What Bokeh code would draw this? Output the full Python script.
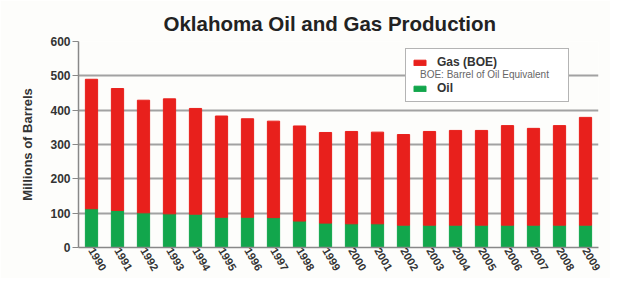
import math
from bokeh.plotting import figure
from bokeh.models import ColumnDataSource, Legend, LegendItem, FixedTicker
from bokeh.embed import file_html
from bokeh.resources import INLINE

years = ["1990", "1991", "1992", "1993", "1994", "1995", "1996", "1997", "1998", "1999",
         "2000", "2001", "2002", "2003", "2004", "2005", "2006", "2007", "2008", "2009"]
oil = [113, 108, 101, 98, 97, 88, 88, 87, 77, 71, 69, 69, 65, 65, 65, 65, 65, 65, 65, 65]
gas = [377, 355, 328, 335, 308, 295, 287, 281, 277, 264, 269, 267, 264, 273, 276, 276, 290, 282, 290, 314]
y_ticks = [0, 100, 200, 300, 400, 500, 600]

GREEN = "#12a64c"
RED = "#e8201c"
FONT = "Liberation Sans"

src = ColumnDataSource(dict(year=years, oil=oil, gas=gas))

p = figure(x_range=years, y_range=(0, 600), width=610, height=278,
           output_backend="svg", toolbar_location=None,
           min_border_left=78, min_border_right=12, min_border_top=41, min_border_bottom=31,
           background_fill_color="#fdfdfb", border_fill_color="#fdfdfb")

p.title.text = "Oklahoma Oil and Gas Production"
p.title.align = "left"
p.title.offset = 85
p.title.text_font = FONT
p.title.text_font_size = "20.5px"
p.title.text_font_style = "bold"
p.title.text_color = "#222222"
p.title.standoff = 13

rs = p.vbar_stack(["oil", "gas"], x="year", width=0.47, color=[GREEN, RED], source=src)
dummy = p.scatter(x=[], y=[], alpha=0)

p.outline_line_color = None
p.xgrid.grid_line_color = None
p.ygrid.grid_line_color = "#a2a2a2"
p.ygrid.grid_line_width = 2

p.yaxis.ticker = FixedTicker(ticks=y_ticks)
p.yaxis.axis_label = "Millions of Barrels"
p.yaxis.axis_label_text_font = FONT
p.yaxis.axis_label_text_font_size = "13px"
p.yaxis.axis_label_text_font_style = "bold"
p.yaxis.axis_label_text_color = "#333333"
p.yaxis.axis_label_standoff = 12
p.yaxis.minor_tick_line_color = None
p.yaxis.major_tick_out = 6
p.yaxis.major_tick_in = 0
p.yaxis.major_tick_line_color = "#888888"
p.yaxis.axis_line_color = "#888888"
p.yaxis.axis_line_width = 1.5

for ax in (p.xaxis, p.yaxis):
    ax.major_label_text_font = FONT
    ax.major_label_text_font_style = "bold"
    ax.major_label_text_color = "#333333"
p.yaxis.major_label_text_font_size = "12px"
p.xaxis.major_label_text_font_size = "11px"

p.yaxis.major_label_standoff = 2
p.xaxis.major_label_orientation = -math.pi / 3
p.xaxis.major_label_standoff = 1
p.xaxis.major_tick_out = 0
p.xaxis.major_tick_in = 0
p.xaxis.axis_line_color = "#888888"
p.xaxis.axis_line_width = 1.5

legend = Legend(items=[LegendItem(label="Gas (BOE)", renderers=[rs[1]]),
                       LegendItem(label="Oil", renderers=[rs[0]])],
                location=(327, 145))
legend.label_text_font = FONT
legend.label_text_font_size = "12px"
legend.label_text_font_style = "bold"
legend.label_text_color = "#333333"
legend.label_height = 12
legend.label_width = 125
legend.glyph_width = 15
legend.glyph_height = 7
legend.label_standoff = 10
legend.spacing = 12
legend.padding = 6
legend.margin = 0
legend.border_line_color = "#6a6a6a"
legend.border_line_width = 1.5
legend.background_fill_color = "white"
legend.background_fill_alpha = 1
p.add_layout(legend)

note = Legend(items=[LegendItem(label="BOE: Barrel of Oil Equivalent", renderers=[dummy])],
              location=(341, 167))
note.label_text_font = FONT
note.label_text_font_size = "10px"
note.label_text_color = "#666666"
note.label_height = 10
note.glyph_height = 10
note.glyph_width = 1
note.label_standoff = 0
note.padding = 0
note.margin = 0
note.border_line_color = None
note.background_fill_alpha = 0
p.add_layout(note)

open("out.html", "w").write(file_html(p, INLINE))
